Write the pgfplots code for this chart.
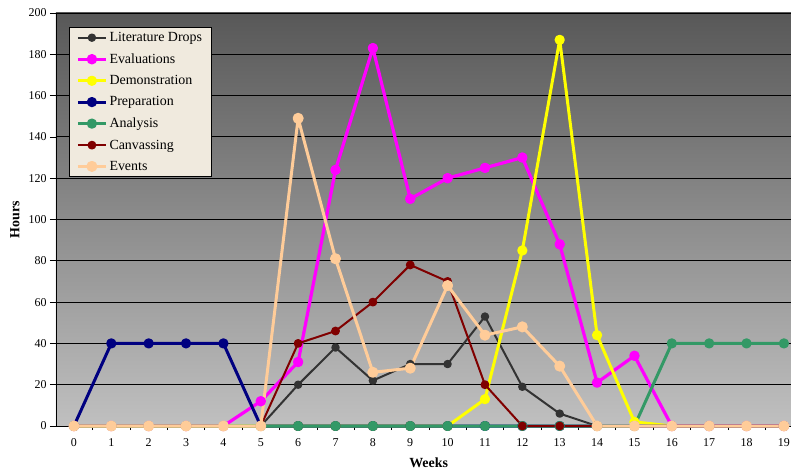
\documentclass[border=0pt]{standalone}
\usepackage{fontspec}
\setmainfont{Liberation Serif}
\usepackage{pgfplots}
\pgfplotsset{compat=1.18}
\definecolor{litc}{HTML}{333333}
\definecolor{evac}{HTML}{FF00FF}
\definecolor{democ}{HTML}{FFFF00}
\definecolor{prepc}{HTML}{000080}
\definecolor{anac}{HTML}{339966}
\definecolor{canc}{HTML}{800000}
\definecolor{evc}{HTML}{FFCC99}
\definecolor{legbg}{RGB}{240,234,222}
\definecolor{bgtop}{RGB}{88,88,88}
\definecolor{bgbot}{RGB}{192,192,192}
\begin{document}
\begin{tikzpicture}
\begin{axis}[
  at={(0,0)}, anchor=south west,
  scale only axis, width=735bp, height=413bp,
  xmin=-0.48, xmax=19.19, ymin=0, ymax=200,
  axis x line*=bottom, axis y line*=left,
  axis line style={black, line width=0.8bp},
  axis background/.style={shade, top color=bgtop, bottom color=bgbot},
  ytick={0,20,...,200},
  ymajorgrids, major grid style={black, line width=0.8bp},
  xtick={0,...,19},
  minor xtick={-0.5,0.5,...,18.5},
  major x tick style={draw=none},
  tick align=outside, major tick length=6bp, minor tick length=4bp,
  tick style={black, line width=0.6bp},
  tick label style={font=\fontsize{12}{13}\selectfont},
  /pgf/number format/assume math mode=true,
  xticklabel style={yshift=-3bp},
  xlabel={Weeks}, ylabel={Hours},
  label style={font=\fontsize{14}{16}\selectfont\bfseries},
  xlabel style={at={(axis description cs:0.507,-0.0896)}, anchor=center},
  ylabel style={at={(axis description cs:-0.0558,0.5)}, anchor=center},
  legend style={at={(axis description cs:0.0177,0.966)}, anchor=north west,
    fill=legbg, draw=black, line width=0.6bp,
    font=\fontsize{14}{16}\selectfont, row sep=6.6bp,
    inner xsep=7bp, inner ysep=3bp},
  legend cell align=left,
  legend image code/.code={\draw[mark repeat=2,mark phase=2,#1] plot coordinates {(0bp,0bp) (14bp,0bp) (28bp,0bp)};},
  every axis plot/.append style={line join=round},
  clip=false,
]
\addplot[litc, line width=2bp, mark=*, mark size=3.2bp, mark options={solid, fill=litc}] coordinates {
(0,0) (1,0) (2,0) (3,0) (4,0) (5,0) (6,20) (7,38) (8,22) (9,30) (10,30) (11,53) (12,19) (13,6) (14,0) (15,0) (16,0) (17,0) (18,0) (19,0)};
\addlegendentry{Literature Drops}
\addplot[evac, line width=3.2bp, mark=*, mark size=3.6bp, mark options={solid, fill=evac}] coordinates {
(0,0) (1,0) (2,0) (3,0) (4,0) (5,12) (6,31) (7,124) (8,183) (9,110) (10,120) (11,125) (12,130) (13,88) (14,21) (15,34) (16,0) (17,0) (18,0) (19,0)};
\addlegendentry{Evaluations}
\addplot[democ, line width=3bp, mark=*, mark size=3.6bp, mark options={solid, fill=democ}] coordinates {
(0,0) (1,0) (2,0) (3,0) (4,0) (5,0) (6,0) (7,0) (8,0) (9,0) (10,0) (11,13) (12,85) (13,187) (14,44) (15,2) (16,0) (17,0) (18,0) (19,0)};
\addlegendentry{Demonstration}
\addplot[prepc, line width=3bp, mark=*, mark size=3.6bp, mark options={solid, fill=prepc}] coordinates {
(0,0) (1,40) (2,40) (3,40) (4,40) (5,0) (6,0) (7,0) (8,0) (9,0) (10,0) (11,0) (12,0) (13,0) (14,0) (15,0) (16,0) (17,0) (18,0) (19,0)};
\addlegendentry{Preparation}
\addplot[anac, line width=3bp, mark=*, mark size=3.6bp, mark options={solid, fill=anac}] coordinates {
(0,0) (1,0) (2,0) (3,0) (4,0) (5,0) (6,0) (7,0) (8,0) (9,0) (10,0) (11,0) (12,0) (13,0) (14,0) (15,0) (16,40) (17,40) (18,40) (19,40)};
\addlegendentry{Analysis}
\addplot[canc, line width=2bp, mark=*, mark size=3.4bp, mark options={solid, fill=canc}] coordinates {
(0,0) (1,0) (2,0) (3,0) (4,0) (5,0) (6,40) (7,46) (8,60) (9,78) (10,70) (11,20) (12,0) (13,0) (14,0) (15,0) (16,0) (17,0) (18,0) (19,0)};
\addlegendentry{Canvassing}
\addplot[evc, line width=3bp, mark=*, mark size=4bp, mark options={solid, fill=evc}] coordinates {
(0,0) (1,0) (2,0) (3,0) (4,0) (5,0) (6,149) (7,81) (8,26) (9,28) (10,68) (11,44) (12,48) (13,29) (14,0) (15,0) (16,0) (17,0) (18,0) (19,0)};
\addlegendentry{Events}
\end{axis}
\pgfresetboundingbox
\path[use as bounding box] (-56bp,-47bp) rectangle (735bp,426bp);
\end{tikzpicture}
\end{document}
